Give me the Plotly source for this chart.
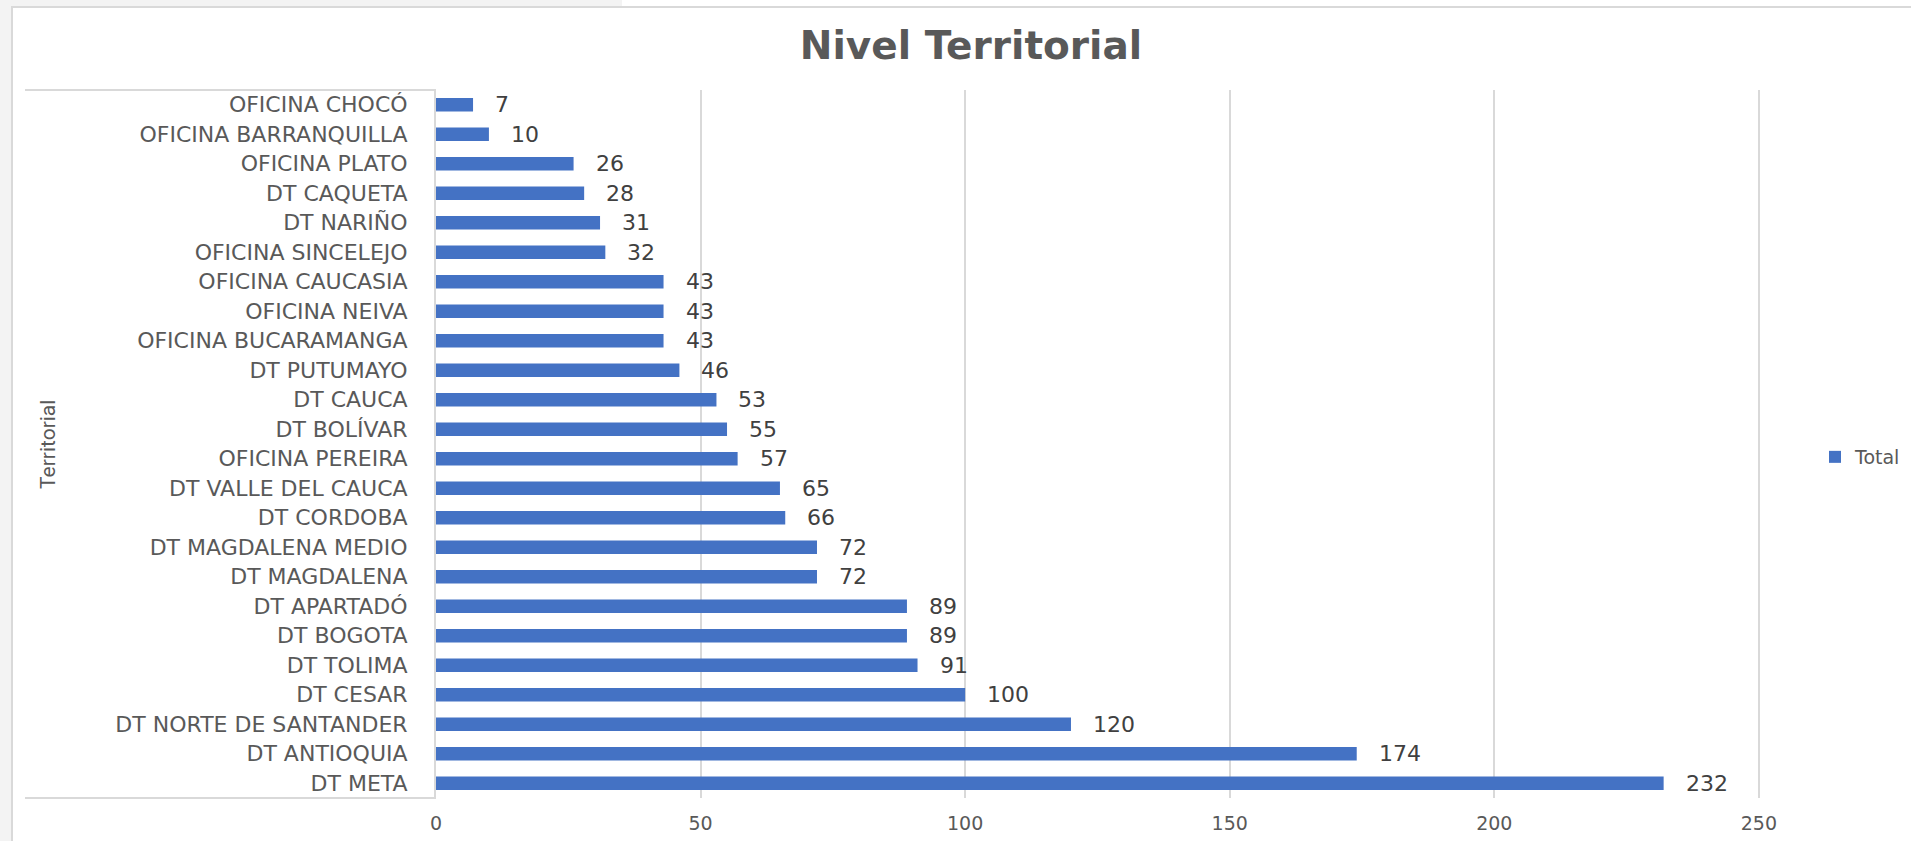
import plotly.graph_objects as go

categories = [
    "OFICINA CHOCÓ", "OFICINA BARRANQUILLA", "OFICINA PLATO", "DT CAQUETA",
    "DT NARIÑO", "OFICINA SINCELEJO", "OFICINA CAUCASIA", "OFICINA NEIVA",
    "OFICINA BUCARAMANGA", "DT PUTUMAYO", "DT CAUCA", "DT BOLÍVAR",
    "OFICINA PEREIRA", "DT VALLE DEL CAUCA", "DT CORDOBA", "DT MAGDALENA MEDIO",
    "DT MAGDALENA", "DT APARTADÓ", "DT BOGOTA", "DT TOLIMA", "DT CESAR",
    "DT NORTE DE SANTANDER", "DT ANTIOQUIA", "DT META",
]
values = [7, 10, 26, 28, 31, 32, 43, 43, 43, 46, 53, 55, 57, 65, 66, 72, 72,
          89, 89, 91, 100, 120, 174, 232]
x_ticks = [0, 50, 100, 150, 200, 250]
series_name = "Total"
title_text = "Nivel Territorial"
y_title = "Territorial"

W, H = 1911, 841
L, R, T, B = 436, 150, 90, 43
PW, PH = W - L - R, H - T - B


def px_x(p):
    return (p - L) / PW


def px_y(p):
    return (H - B - p) / PH


GRID = "#d9d9d9"
TXT = "#595959"

fig = go.Figure()
fig.add_trace(go.Bar(
    x=values, y=categories, orientation="h", name=series_name,
    marker=dict(color="#4472C4", line=dict(width=0)),
    hoverinfo="x+y",
))

annotations = []
for c, v in zip(categories, values):
    annotations.append(dict(
        x=v, y=c, xref="x", yref="y", text=str(v), showarrow=False,
        xanchor="left", yanchor="middle", xshift=20,
        font=dict(family="DejaVu Sans", size=22, color="#404040"),
    ))
annotations.append(dict(
    x=px_x(48), y=px_y(445), xref="paper", yref="paper", text=y_title,
    showarrow=False, textangle=-90, xanchor="center", yanchor="middle",
    font=dict(family="Roboto", size=21, color=TXT),
))

line_style = dict(color=GRID, width=2)
shapes = [
    # outer grey strips
    dict(type="rect", xref="paper", yref="paper", x0=px_x(0), x1=px_x(11),
         y0=px_y(841), y1=px_y(0), fillcolor="#f3f3f3", line=dict(width=0), layer="below"),
    dict(type="rect", xref="paper", yref="paper", x0=px_x(0), x1=px_x(622),
         y0=px_y(6), y1=px_y(0), fillcolor="#f3f3f3", line=dict(width=0), layer="below"),
    # chart border
    dict(type="line", xref="paper", yref="paper", x0=px_x(11), x1=px_x(1911),
         y0=px_y(7), y1=px_y(7), line=line_style),
    dict(type="line", xref="paper", yref="paper", x0=px_x(12), x1=px_x(12),
         y0=px_y(7), y1=px_y(841), line=line_style),
    # category axis box lines
    dict(type="line", xref="paper", yref="paper", x0=px_x(25), x1=0,
         y0=1, y1=1, line=line_style),
    dict(type="line", xref="paper", yref="paper", x0=px_x(25), x1=0,
         y0=0, y1=0, line=line_style),
]

fig.update_layout(
    width=W, height=H,
    margin=dict(l=L, r=R, t=T, b=B, autoexpand=False),
    paper_bgcolor="white", plot_bgcolor="white",
    title=dict(text=f"<b>{title_text}</b>", x=971 / W, xref="container",
               xanchor="center", y=1 - 45 / H, yref="container", yanchor="middle",
               font=dict(family="DejaVu Sans", size=39, color=TXT)),
    bargap=0.55,
    showlegend=True,
    legend=dict(x=px_x(1815), y=px_y(457), xanchor="left", yanchor="middle",
                font=dict(family="DejaVu Sans", size=19, color=TXT),
                bgcolor="rgba(0,0,0,0)", borderwidth=0),
    xaxis=dict(range=[0, 250.4], tickvals=x_ticks, ticktext=[str(t) for t in x_ticks],
               showgrid=True, gridcolor=GRID, gridwidth=2, zeroline=False,
               showline=False, ticks="", ticklabelstandoff=12,
               tickfont=dict(family="DejaVu Sans", size=19, color=TXT)),
    yaxis=dict(categoryorder="array", categoryarray=categories, autorange="reversed",
               showline=True, linecolor=GRID, linewidth=2, showgrid=False,
               ticks="", ticklabelstandoff=22,
               tickfont=dict(family="DejaVu Sans", size=22, color=TXT)),
    annotations=annotations,
    shapes=shapes,
)

fig.write_html(
    "out.html",
    config={"displayModeBar": False},
    post_script="document.body.style.margin='0';document.body.style.overflow='hidden';",
)
